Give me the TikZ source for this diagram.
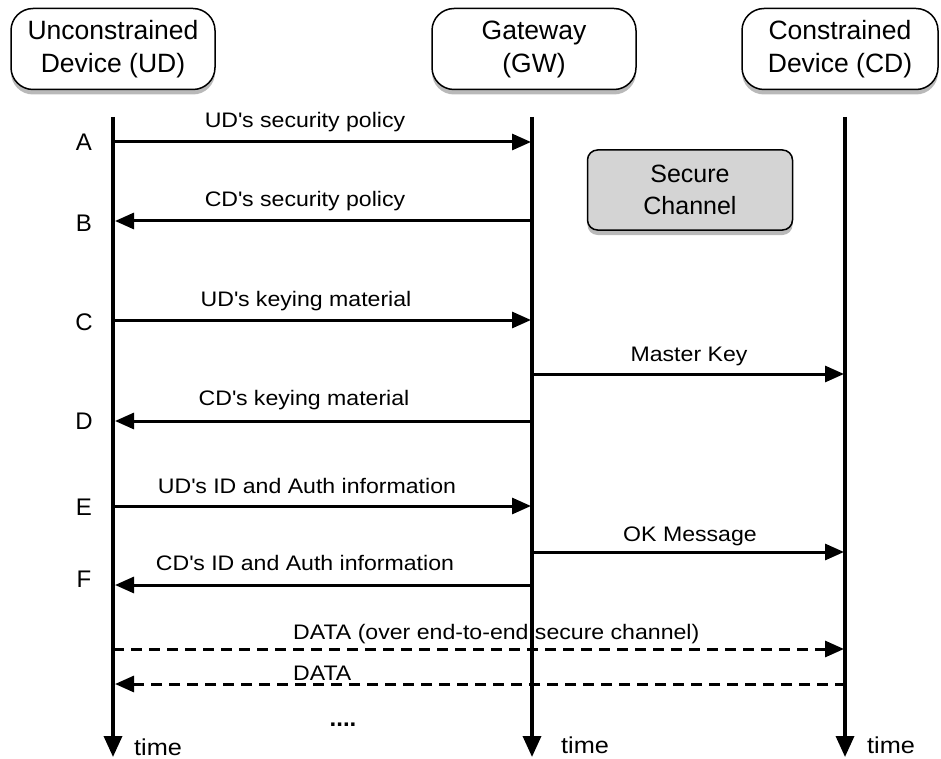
\documentclass[tikz,border=0pt]{standalone}
\usepackage{fontspec}
\setmainfont{Liberation Sans}
\newfontfamily\lblfont[FakeStretch=1.1]{Liberation Sans}
\usetikzlibrary{shadows,arrows.meta}
\definecolor{scgray}{RGB}{212,212,212}
\newcommand{\ap}{\textquotesingle}
\begin{document}
\begin{tikzpicture}[x=1pt,y=-1pt,
  actor/.style={draw, line width=1.5pt, rounded corners=22pt, fill=white,
    minimum width=204pt, minimum height=81pt, align=center, inner sep=2pt,
    font=\fontsize{26.5}{33}\selectfont,
    drop shadow={shadow xshift=0pt, shadow yshift=-5pt, opacity=0.55}},
  chanbox/.style={draw, line width=1.5pt, rounded corners=10pt, fill=scgray,
    minimum width=205pt, minimum height=80pt, align=center,
    font=\fontsize{25}{32}\selectfont,
    drop shadow={shadow xshift=0pt, shadow yshift=-5pt, opacity=0.55}},
  life/.style={line width=3.5pt, -{Triangle[length=21pt,width=18pt]}},
  msg/.style={line width=3pt, -{Triangle[length=19pt,width=16pt]}},
  dmsg/.style={msg, dash pattern=on 11pt off 7pt},
  lbl/.style={font=\lblfont\fontsize{21}{25}\selectfont, inner sep=0pt, anchor=base},
  letter/.style={font=\fontsize{24}{28}\selectfont, inner sep=0pt},
  timelbl/.style={font=\lblfont\fontsize{23}{28}\selectfont, inner sep=0pt, anchor=base west}
]
\useasboundingbox (0,0) rectangle (941,759);

% actors
\node[actor] (UD) at (113,49) {Unconstrained\\Device (UD)};
\node[actor] (GW) at (534,49) {Gateway\\(GW)};
\node[actor, minimum width=196pt] (CD) at (840,49) {Constrained\\Device (CD)};
\node[chanbox] (SC) at (690,190) {Secure\\Channel};

% lifelines
\coordinate (udT) at (113,117); \coordinate (udB) at (113,757);
\coordinate (gwT) at (532,117); \coordinate (gwB) at (532,757);
\coordinate (cdT) at (845,117); \coordinate (cdB) at (845,757);
\draw[life] (udT) -- (udB);
\draw[life] (gwT) -- (gwB);
\draw[life] (cdT) -- (cdB);

% time labels
\node[timelbl] (t1) at (134,755) {time};
\node[timelbl] (t2) at (561,753) {time};
\node[timelbl] (t3) at (867,753) {time};

% letters
\node[letter] (lA) at (84,142) {A};
\node[letter] (lB) at (84,223) {B};
\node[letter] (lC) at (84,322) {C};
\node[letter] (lD) at (84,421) {D};
\node[letter] (lE) at (84,507) {E};
\node[letter] (lF) at (84,579) {F};

% message endpoints
\coordinate (uA) at (113,142); \coordinate (gA) at (531,142);
\coordinate (uB) at (115,221); \coordinate (gB) at (532,221);
\coordinate (uC) at (113,320); \coordinate (gC) at (531,320);
\coordinate (gM) at (532,374); \coordinate (cM) at (844,374);
\coordinate (uD) at (115,421); \coordinate (gD) at (532,421);
\coordinate (uE) at (113,506); \coordinate (gE) at (531,506);
\coordinate (gO) at (532,552); \coordinate (cO) at (844,552);
\coordinate (uF) at (115,585); \coordinate (gF) at (532,585);
\coordinate (uX) at (113,649); \coordinate (cX) at (844,649);
\coordinate (uY) at (115,684); \coordinate (cY) at (846,684);

\draw[msg] (uA) -- (gA);
\draw[msg] (gB) -- (uB);
\draw[msg] (uC) -- (gC);
\draw[msg] (gM) -- (cM);
\draw[msg] (gD) -- (uD);
\draw[msg] (uE) -- (gE);
\draw[msg] (gO) -- (cO);
\draw[msg] (gF) -- (uF);
\draw[dmsg] (uX) -- (cX);
\draw[dmsg] (cY) -- (uY);

% labels
\node[lbl] (mA) at (305,128) {UD\ap s security policy};
\node[lbl] (mB) at (305,207) {CD\ap s security policy};
\node[lbl] (mC) at (306,306) {UD\ap s keying material};
\node[lbl] (mM) at (689,361) {Master Key};
\node[lbl] (mD) at (304,405) {CD\ap s keying material};
\node[lbl] (mE) at (307,493) {UD\ap s ID and Auth information};
\node[lbl] (mO) at (690,541) {OK Message};
\node[lbl] (mF) at (305,570) {CD\ap s ID and Auth information};
\node[lbl, anchor=base west] (mX) at (293,639) {DATA (over end-to-end secure channel)};
\node[lbl, anchor=base west] (mY) at (293,680) {DATA};
\node[lbl, font=\fontsize{24}{28}\bfseries] (dots) at (343,726) {....};
\end{tikzpicture}
\end{document}
